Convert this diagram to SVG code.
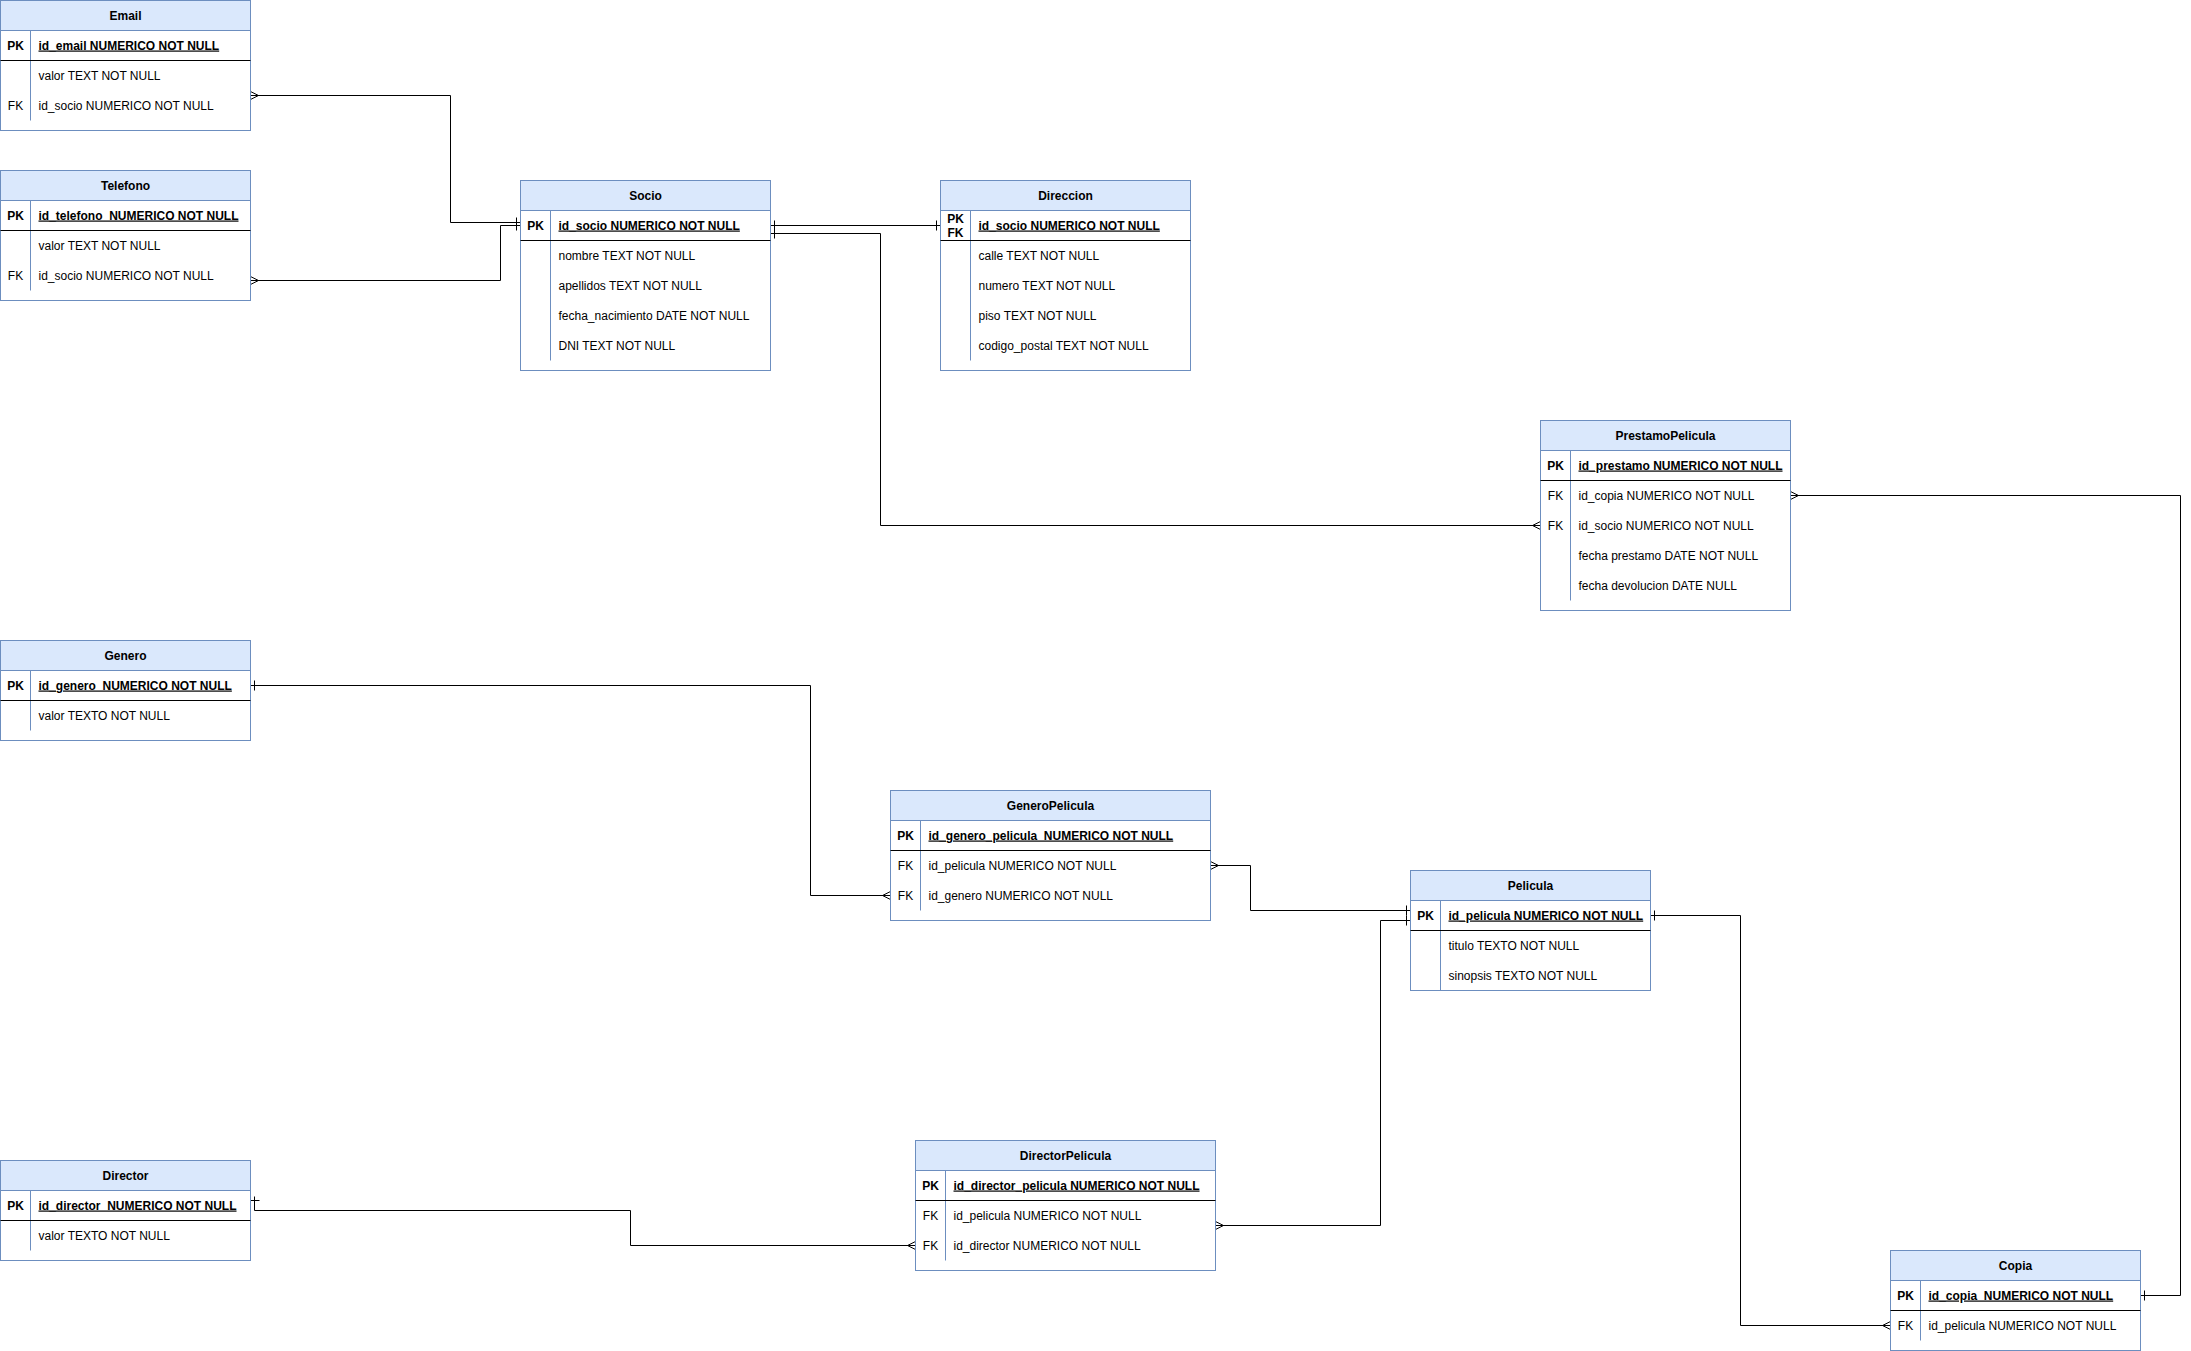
<svg xmlns="http://www.w3.org/2000/svg" width="2191" height="1351" viewBox="0 0 2191 1351">
<style>
.box{fill:#ffffff;stroke:#6c8ebf;stroke-width:1}
.hdr{fill:#dae8fc;stroke:#6c8ebf;stroke-width:1}
.col{stroke:#6c8ebf;stroke-width:1}
.sep{stroke:#000000;stroke-width:1}
text{font-family:"Liberation Sans",Arial,Helvetica,sans-serif;font-size:12px;fill:#000000;white-space:pre}
.ttl{font-weight:bold;text-anchor:middle}
.key{font-weight:bold;text-anchor:middle}
.lbl{text-anchor:middle}
.pkf{font-weight:bold;text-decoration:underline}
.edge{fill:none;stroke:#000000;stroke-width:1}
.mk{fill:none;stroke:#000000;stroke-width:1}
</style>
<defs>
<marker id="many" markerUnits="userSpaceOnUse" viewBox="-10 -10 20 20" markerWidth="20" markerHeight="20" refX="0" refY="0" orient="auto-start-reverse" overflow="visible">
<path class="mk" d="M-8,0 L0,-4 M-8,0 L0,4 M-8,0 L0,0"/>
</marker>
<marker id="one" markerUnits="userSpaceOnUse" viewBox="-10 -10 20 20" markerWidth="20" markerHeight="20" refX="0" refY="0" orient="auto-start-reverse" overflow="visible">
<path class="mk" d="M-4,-5 L-4,5"/>
</marker>
</defs>
<rect x="0" y="0" width="2191" height="1351" fill="#ffffff"/>
<g transform="translate(0.5,0.5)">

<g id="connectors">
<path class="edge" d="M250,95 H450 V222 H520" marker-start="url(#many)" marker-end="url(#one)"/>
<path class="edge" d="M250,280 H500 V225 H520" marker-start="url(#many)" marker-end="url(#one)"/>
<path class="edge" d="M770,225 H940" marker-start="url(#one)" marker-end="url(#one)"/>
<path class="edge" d="M770,233 H880 V525 H1540" marker-start="url(#one)" marker-end="url(#many)"/>
<path class="edge" d="M1790,495 H2180 V1295 H2140" marker-start="url(#many)" marker-end="url(#one)"/>
<path class="edge" d="M250,685 H810 V895 H890" marker-start="url(#one)" marker-end="url(#many)"/>
<path class="edge" d="M1210,865 H1250 V910 H1410" marker-start="url(#many)" marker-end="url(#one)"/>
<path class="edge" d="M1215,1225 H1380 V920 H1410" marker-start="url(#many)" marker-end="url(#one)"/>
<path class="edge" d="M254,1196 V1210 H630 V1245 H915" marker-start="url(#one)" marker-end="url(#many)"/>
<path class="edge" d="M1650,915 H1740 V1325 H1890" marker-start="url(#one)" marker-end="url(#many)"/>
</g>

<g id="Email">
<rect class="box" x="0" y="0" width="250" height="130"/>
<rect class="hdr" x="0" y="0" width="250" height="30"/>
<text class="ttl" x="125" y="19">Email</text>
<line class="col" x1="30" y1="30" x2="30" y2="120"/>
<line class="sep" x1="0" y1="60" x2="250" y2="60"/>
<text class="key" x="15" y="49">PK</text><text class="pkf" x="38" y="49">id_email NUMERICO NOT NULL</text>
<text x="38" y="79">valor TEXT NOT NULL</text>
<text class="lbl" x="15" y="109">FK</text><text x="38" y="109">id_socio NUMERICO NOT NULL</text>
</g>

<g id="Telefono">
<rect class="box" x="0" y="170" width="250" height="130"/>
<rect class="hdr" x="0" y="170" width="250" height="30"/>
<text class="ttl" x="125" y="189">Telefono</text>
<line class="col" x1="30" y1="200" x2="30" y2="290"/>
<line class="sep" x1="0" y1="230" x2="250" y2="230"/>
<text class="key" x="15" y="219">PK</text><text class="pkf" x="38" y="219">id_telefono  NUMERICO NOT NULL</text>
<text x="38" y="249">valor TEXT NOT NULL</text>
<text class="lbl" x="15" y="279">FK</text><text x="38" y="279">id_socio NUMERICO NOT NULL</text>
</g>

<g id="Socio">
<rect class="box" x="520" y="180" width="250" height="190"/>
<rect class="hdr" x="520" y="180" width="250" height="30"/>
<text class="ttl" x="645" y="199">Socio</text>
<line class="col" x1="550" y1="210" x2="550" y2="360"/>
<line class="sep" x1="520" y1="240" x2="770" y2="240"/>
<text class="key" x="535" y="229">PK</text><text class="pkf" x="558" y="229">id_socio NUMERICO NOT NULL</text>
<text x="558" y="259">nombre TEXT NOT NULL</text>
<text x="558" y="289">apellidos TEXT NOT NULL</text>
<text x="558" y="319">fecha_nacimiento DATE NOT NULL</text>
<text x="558" y="349">DNI TEXT NOT NULL</text>
</g>

<g id="Direccion">
<rect class="box" x="940" y="180" width="250" height="190"/>
<rect class="hdr" x="940" y="180" width="250" height="30"/>
<text class="ttl" x="1065" y="199">Direccion</text>
<line class="col" x1="970" y1="210" x2="970" y2="360"/>
<line class="sep" x1="940" y1="240" x2="1190" y2="240"/>
<text class="key" x="955" y="222">PK</text><text class="key" x="955" y="236">FK</text>
<text class="pkf" x="978" y="229">id_socio NUMERICO NOT NULL</text>
<text x="978" y="259">calle TEXT NOT NULL</text>
<text x="978" y="289">numero TEXT NOT NULL</text>
<text x="978" y="319">piso TEXT NOT NULL</text>
<text x="978" y="349">codigo_postal TEXT NOT NULL</text>
</g>

<g id="PrestamoPelicula">
<rect class="box" x="1540" y="420" width="250" height="190"/>
<rect class="hdr" x="1540" y="420" width="250" height="30"/>
<text class="ttl" x="1665" y="439">PrestamoPelicula</text>
<line class="col" x1="1570" y1="450" x2="1570" y2="600"/>
<line class="sep" x1="1540" y1="480" x2="1790" y2="480"/>
<text class="key" x="1555" y="469">PK</text><text class="pkf" x="1578" y="469">id_prestamo NUMERICO NOT NULL</text>
<text class="lbl" x="1555" y="499">FK</text><text x="1578" y="499">id_copia NUMERICO NOT NULL</text>
<text class="lbl" x="1555" y="529">FK</text><text x="1578" y="529">id_socio NUMERICO NOT NULL</text>
<text x="1578" y="559">fecha prestamo DATE NOT NULL</text>
<text x="1578" y="589">fecha devolucion DATE NULL</text>
</g>

<g id="Genero">
<rect class="box" x="0" y="640" width="250" height="100"/>
<rect class="hdr" x="0" y="640" width="250" height="30"/>
<text class="ttl" x="125" y="659">Genero</text>
<line class="col" x1="30" y1="670" x2="30" y2="730"/>
<line class="sep" x1="0" y1="700" x2="250" y2="700"/>
<text class="key" x="15" y="689">PK</text><text class="pkf" x="38" y="689">id_genero  NUMERICO NOT NULL</text>
<text x="38" y="719">valor TEXTO NOT NULL</text>
</g>

<g id="GeneroPelicula">
<rect class="box" x="890" y="790" width="320" height="130"/>
<rect class="hdr" x="890" y="790" width="320" height="30"/>
<text class="ttl" x="1050" y="809">GeneroPelicula</text>
<line class="col" x1="920" y1="820" x2="920" y2="910"/>
<line class="sep" x1="890" y1="850" x2="1210" y2="850"/>
<text class="key" x="905" y="839">PK</text><text class="pkf" x="928" y="839">id_genero_pelicula  NUMERICO NOT NULL</text>
<text class="lbl" x="905" y="869">FK</text><text x="928" y="869">id_pelicula NUMERICO NOT NULL</text>
<text class="lbl" x="905" y="899">FK</text><text x="928" y="899">id_genero NUMERICO NOT NULL</text>
</g>

<g id="Pelicula">
<rect class="box" x="1410" y="870" width="240" height="120"/>
<rect class="hdr" x="1410" y="870" width="240" height="30"/>
<text class="ttl" x="1530" y="889">Pelicula</text>
<line class="col" x1="1440" y1="900" x2="1440" y2="990"/>
<line class="sep" x1="1410" y1="930" x2="1650" y2="930"/>
<text class="key" x="1425" y="919">PK</text><text class="pkf" x="1448" y="919">id_pelicula NUMERICO NOT NULL</text>
<text x="1448" y="949">titulo TEXTO NOT NULL</text>
<text x="1448" y="979">sinopsis TEXTO NOT NULL</text>
</g>

<g id="Director">
<rect class="box" x="0" y="1160" width="250" height="100"/>
<rect class="hdr" x="0" y="1160" width="250" height="30"/>
<text class="ttl" x="125" y="1179">Director</text>
<line class="col" x1="30" y1="1190" x2="30" y2="1250"/>
<line class="sep" x1="0" y1="1220" x2="250" y2="1220"/>
<text class="key" x="15" y="1209">PK</text><text class="pkf" x="38" y="1209">id_director  NUMERICO NOT NULL</text>
<text x="38" y="1239">valor TEXTO NOT NULL</text>
</g>

<g id="DirectorPelicula">
<rect class="box" x="915" y="1140" width="300" height="130"/>
<rect class="hdr" x="915" y="1140" width="300" height="30"/>
<text class="ttl" x="1065" y="1159">DirectorPelicula</text>
<line class="col" x1="945" y1="1170" x2="945" y2="1260"/>
<line class="sep" x1="915" y1="1200" x2="1215" y2="1200"/>
<text class="key" x="930" y="1189">PK</text><text class="pkf" x="953" y="1189">id_director_pelicula NUMERICO NOT NULL</text>
<text class="lbl" x="930" y="1219">FK</text><text x="953" y="1219">id_pelicula NUMERICO NOT NULL</text>
<text class="lbl" x="930" y="1249">FK</text><text x="953" y="1249">id_director NUMERICO NOT NULL</text>
</g>

<g id="Copia">
<rect class="box" x="1890" y="1250" width="250" height="100"/>
<rect class="hdr" x="1890" y="1250" width="250" height="30"/>
<text class="ttl" x="2015" y="1269">Copia</text>
<line class="col" x1="1920" y1="1280" x2="1920" y2="1340"/>
<line class="sep" x1="1890" y1="1310" x2="2140" y2="1310"/>
<text class="key" x="1905" y="1299">PK</text><text class="pkf" x="1928" y="1299">id_copia  NUMERICO NOT NULL</text>
<text class="lbl" x="1905" y="1329">FK</text><text x="1928" y="1329">id_pelicula NUMERICO NOT NULL</text>
</g>

</g>
</svg>
